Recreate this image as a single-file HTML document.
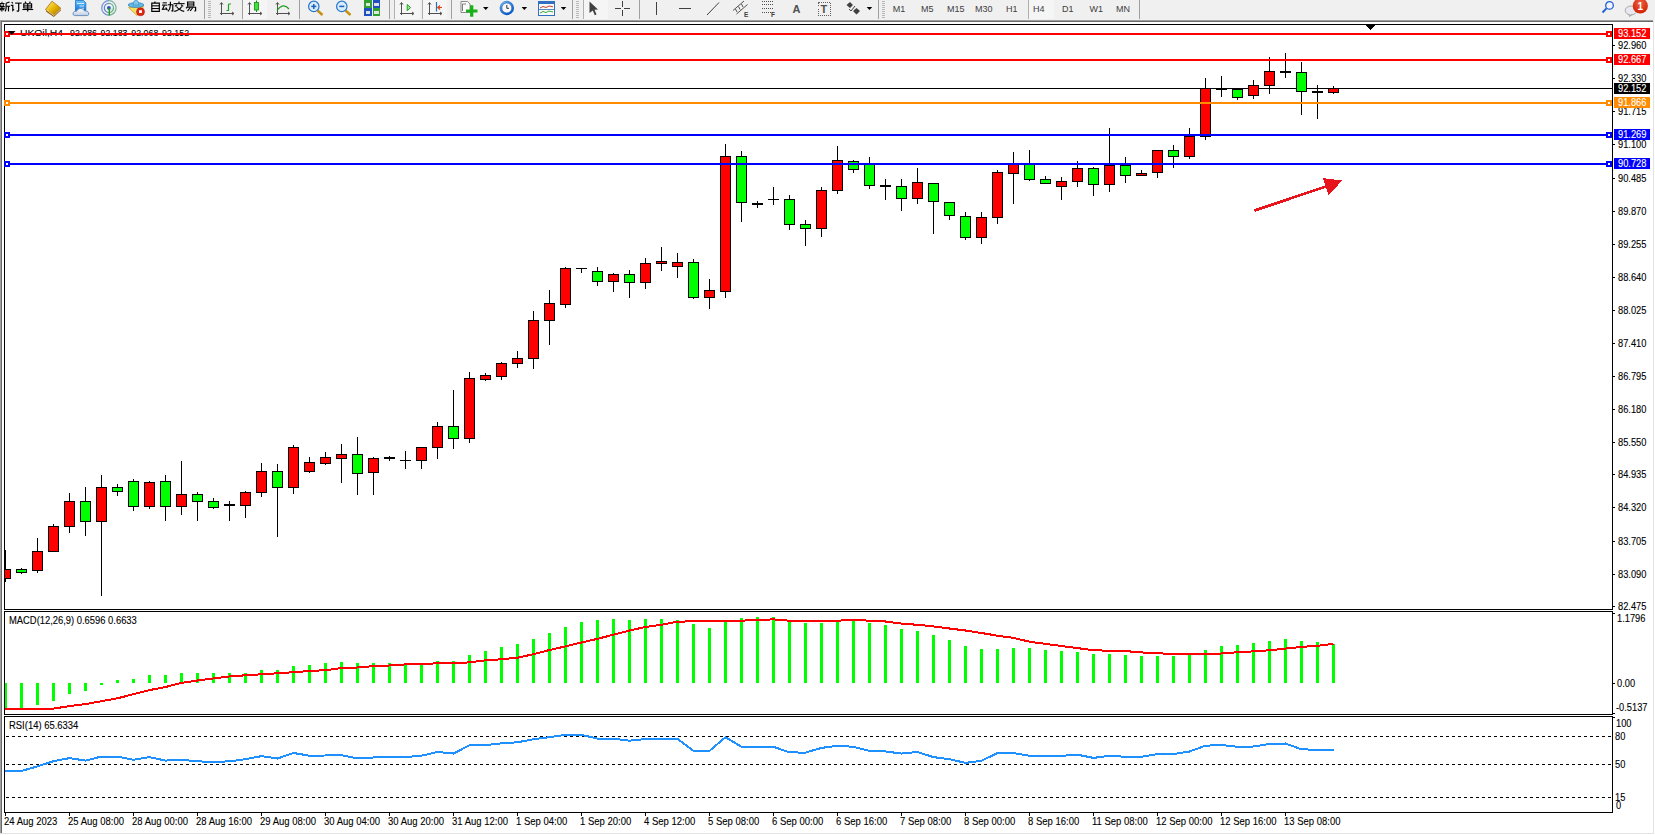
<!DOCTYPE html>
<html><head><meta charset="utf-8"><style>
html,body{margin:0;padding:0;}
body{width:1655px;height:835px;overflow:hidden;background:#fff;position:relative;font-family:'Liberation Sans', sans-serif;}
#tb{position:absolute;left:0;top:0;width:1655px;height:20px;background:#f0f0f0;}
svg{position:absolute;left:0;top:0;}
svg text{font-family:'Liberation Sans', sans-serif;}
</style></head><body>
<div id="tb"></div>
<svg width="1655" height="835" viewBox="0 0 1655 835" shape-rendering="crispEdges">
<defs>
<clipPath id="mainclip"><rect x="5" y="25" width="1607" height="584"/></clipPath>
<clipPath id="macdclip"><rect x="5" y="612" width="1607" height="102"/></clipPath>
<clipPath id="rsiclip"><rect x="5" y="717" width="1607" height="95"/></clipPath>
</defs>
<rect x="0" y="20" width="1653" height="1" fill="#a0a0a0"/>
<rect x="0" y="20" width="1" height="814" fill="#a0a0a0"/>
<rect x="1" y="21" width="1652" height="1" fill="#696969"/>
<rect x="1" y="21" width="1" height="812" fill="#696969"/>
<rect x="1653" y="20" width="1" height="814" fill="#e3e3e3"/>
<rect x="0" y="833" width="1654" height="1" fill="#e3e3e3"/>
<rect x="4" y="24" width="1609" height="1" fill="#000"/>
<rect x="4" y="609" width="1609" height="1" fill="#000"/>
<rect x="4" y="24" width="1" height="586" fill="#000"/>
<rect x="1612" y="24" width="1" height="586" fill="#000"/>
<rect x="4" y="611" width="1609" height="1" fill="#000"/>
<rect x="4" y="714" width="1609" height="1" fill="#000"/>
<rect x="4" y="611" width="1" height="104" fill="#000"/>
<rect x="1612" y="611" width="1" height="104" fill="#000"/>
<rect x="4" y="716" width="1609" height="1" fill="#000"/>
<rect x="4" y="812" width="1609" height="1" fill="#000"/>
<rect x="4" y="716" width="1" height="97" fill="#000"/>
<rect x="1612" y="716" width="1" height="97" fill="#000"/>
<rect x="5" y="88" width="1607" height="1" fill="#000"/>
<g clip-path="url(#mainclip)">
<rect x="5" y="550" width="1" height="32" fill="#000"/>
<rect x="0" y="569" width="11" height="10" fill="#000"/>
<rect x="1" y="570" width="9" height="8" fill="#ff0000"/>
<rect x="21" y="568" width="1" height="6" fill="#000"/>
<rect x="16" y="569" width="11" height="4" fill="#000"/>
<rect x="17" y="570" width="9" height="2" fill="#00ff00"/>
<rect x="37" y="538" width="1" height="35" fill="#000"/>
<rect x="32" y="551" width="11" height="20" fill="#000"/>
<rect x="33" y="552" width="9" height="18" fill="#ff0000"/>
<rect x="53" y="524" width="1" height="27" fill="#000"/>
<rect x="48" y="526" width="11" height="26" fill="#000"/>
<rect x="49" y="527" width="9" height="24" fill="#ff0000"/>
<rect x="69" y="493" width="1" height="40" fill="#000"/>
<rect x="64" y="501" width="11" height="26" fill="#000"/>
<rect x="65" y="502" width="9" height="24" fill="#ff0000"/>
<rect x="85" y="487" width="1" height="49" fill="#000"/>
<rect x="80" y="501" width="11" height="21" fill="#000"/>
<rect x="81" y="502" width="9" height="19" fill="#00ff00"/>
<rect x="101" y="475" width="1" height="121" fill="#000"/>
<rect x="96" y="487" width="11" height="35" fill="#000"/>
<rect x="97" y="488" width="9" height="33" fill="#ff0000"/>
<rect x="117" y="484" width="1" height="12" fill="#000"/>
<rect x="112" y="487" width="11" height="5" fill="#000"/>
<rect x="113" y="488" width="9" height="3" fill="#00ff00"/>
<rect x="133" y="479" width="1" height="32" fill="#000"/>
<rect x="128" y="481" width="11" height="26" fill="#000"/>
<rect x="129" y="482" width="9" height="24" fill="#00ff00"/>
<rect x="149" y="481" width="1" height="28" fill="#000"/>
<rect x="144" y="482" width="11" height="25" fill="#000"/>
<rect x="145" y="483" width="9" height="23" fill="#ff0000"/>
<rect x="165" y="475" width="1" height="46" fill="#000"/>
<rect x="160" y="481" width="11" height="26" fill="#000"/>
<rect x="161" y="482" width="9" height="24" fill="#00ff00"/>
<rect x="181" y="461" width="1" height="54" fill="#000"/>
<rect x="176" y="494" width="11" height="13" fill="#000"/>
<rect x="177" y="495" width="9" height="11" fill="#ff0000"/>
<rect x="197" y="492" width="1" height="29" fill="#000"/>
<rect x="192" y="494" width="11" height="8" fill="#000"/>
<rect x="193" y="495" width="9" height="6" fill="#00ff00"/>
<rect x="213" y="498" width="1" height="11" fill="#000"/>
<rect x="208" y="501" width="11" height="7" fill="#000"/>
<rect x="209" y="502" width="9" height="5" fill="#00ff00"/>
<rect x="229" y="501" width="1" height="20" fill="#000"/>
<rect x="224" y="504" width="11" height="2" fill="#000"/>
<rect x="245" y="491" width="1" height="27" fill="#000"/>
<rect x="240" y="492" width="11" height="14" fill="#000"/>
<rect x="241" y="493" width="9" height="12" fill="#ff0000"/>
<rect x="261" y="463" width="1" height="34" fill="#000"/>
<rect x="256" y="471" width="11" height="22" fill="#000"/>
<rect x="257" y="472" width="9" height="20" fill="#ff0000"/>
<rect x="277" y="464" width="1" height="73" fill="#000"/>
<rect x="272" y="471" width="11" height="17" fill="#000"/>
<rect x="273" y="472" width="9" height="15" fill="#00ff00"/>
<rect x="293" y="445" width="1" height="49" fill="#000"/>
<rect x="288" y="447" width="11" height="41" fill="#000"/>
<rect x="289" y="448" width="9" height="39" fill="#ff0000"/>
<rect x="309" y="457" width="1" height="16" fill="#000"/>
<rect x="304" y="462" width="11" height="10" fill="#000"/>
<rect x="305" y="463" width="9" height="8" fill="#ff0000"/>
<rect x="325" y="452" width="1" height="13" fill="#000"/>
<rect x="320" y="457" width="11" height="7" fill="#000"/>
<rect x="321" y="458" width="9" height="5" fill="#ff0000"/>
<rect x="341" y="444" width="1" height="39" fill="#000"/>
<rect x="336" y="454" width="11" height="5" fill="#000"/>
<rect x="337" y="455" width="9" height="3" fill="#ff0000"/>
<rect x="357" y="437" width="1" height="58" fill="#000"/>
<rect x="352" y="454" width="11" height="20" fill="#000"/>
<rect x="353" y="455" width="9" height="18" fill="#00ff00"/>
<rect x="373" y="457" width="1" height="38" fill="#000"/>
<rect x="368" y="458" width="11" height="15" fill="#000"/>
<rect x="369" y="459" width="9" height="13" fill="#ff0000"/>
<rect x="389" y="456" width="1" height="5" fill="#000"/>
<rect x="384" y="457" width="11" height="2" fill="#000"/>
<rect x="405" y="451" width="1" height="18" fill="#000"/>
<rect x="400" y="460" width="11" height="1" fill="#000"/>
<rect x="421" y="447" width="1" height="22" fill="#000"/>
<rect x="416" y="447" width="11" height="14" fill="#000"/>
<rect x="417" y="448" width="9" height="12" fill="#ff0000"/>
<rect x="437" y="422" width="1" height="37" fill="#000"/>
<rect x="432" y="426" width="11" height="22" fill="#000"/>
<rect x="433" y="427" width="9" height="20" fill="#ff0000"/>
<rect x="453" y="390" width="1" height="59" fill="#000"/>
<rect x="448" y="426" width="11" height="13" fill="#000"/>
<rect x="449" y="427" width="9" height="11" fill="#00ff00"/>
<rect x="469" y="372" width="1" height="71" fill="#000"/>
<rect x="464" y="378" width="11" height="61" fill="#000"/>
<rect x="465" y="379" width="9" height="59" fill="#ff0000"/>
<rect x="485" y="373" width="1" height="8" fill="#000"/>
<rect x="480" y="375" width="11" height="5" fill="#000"/>
<rect x="481" y="376" width="9" height="3" fill="#ff0000"/>
<rect x="501" y="362" width="1" height="18" fill="#000"/>
<rect x="496" y="363" width="11" height="14" fill="#000"/>
<rect x="497" y="364" width="9" height="12" fill="#ff0000"/>
<rect x="517" y="351" width="1" height="17" fill="#000"/>
<rect x="512" y="358" width="11" height="6" fill="#000"/>
<rect x="513" y="359" width="9" height="4" fill="#ff0000"/>
<rect x="533" y="311" width="1" height="58" fill="#000"/>
<rect x="528" y="320" width="11" height="39" fill="#000"/>
<rect x="529" y="321" width="9" height="37" fill="#ff0000"/>
<rect x="549" y="290" width="1" height="55" fill="#000"/>
<rect x="544" y="303" width="11" height="18" fill="#000"/>
<rect x="545" y="304" width="9" height="16" fill="#ff0000"/>
<rect x="565" y="267" width="1" height="41" fill="#000"/>
<rect x="560" y="268" width="11" height="37" fill="#000"/>
<rect x="561" y="269" width="9" height="35" fill="#ff0000"/>
<rect x="581" y="268" width="1" height="5" fill="#000"/>
<rect x="576" y="268" width="11" height="1" fill="#000"/>
<rect x="597" y="267" width="1" height="19" fill="#000"/>
<rect x="592" y="271" width="11" height="11" fill="#000"/>
<rect x="593" y="272" width="9" height="9" fill="#00ff00"/>
<rect x="613" y="273" width="1" height="19" fill="#000"/>
<rect x="608" y="274" width="11" height="8" fill="#000"/>
<rect x="609" y="275" width="9" height="6" fill="#ff0000"/>
<rect x="629" y="270" width="1" height="28" fill="#000"/>
<rect x="624" y="274" width="11" height="9" fill="#000"/>
<rect x="625" y="275" width="9" height="7" fill="#00ff00"/>
<rect x="645" y="258" width="1" height="31" fill="#000"/>
<rect x="640" y="263" width="11" height="20" fill="#000"/>
<rect x="641" y="264" width="9" height="18" fill="#ff0000"/>
<rect x="661" y="247" width="1" height="24" fill="#000"/>
<rect x="656" y="261" width="11" height="3" fill="#000"/>
<rect x="657" y="262" width="9" height="1" fill="#ff0000"/>
<rect x="677" y="253" width="1" height="25" fill="#000"/>
<rect x="672" y="262" width="11" height="5" fill="#000"/>
<rect x="673" y="263" width="9" height="3" fill="#ff0000"/>
<rect x="693" y="259" width="1" height="40" fill="#000"/>
<rect x="688" y="262" width="11" height="36" fill="#000"/>
<rect x="689" y="263" width="9" height="34" fill="#00ff00"/>
<rect x="709" y="279" width="1" height="30" fill="#000"/>
<rect x="704" y="290" width="11" height="8" fill="#000"/>
<rect x="705" y="291" width="9" height="6" fill="#ff0000"/>
<rect x="725" y="144" width="1" height="154" fill="#000"/>
<rect x="720" y="156" width="11" height="136" fill="#000"/>
<rect x="721" y="157" width="9" height="134" fill="#ff0000"/>
<rect x="741" y="151" width="1" height="71" fill="#000"/>
<rect x="736" y="156" width="11" height="47" fill="#000"/>
<rect x="737" y="157" width="9" height="45" fill="#00ff00"/>
<rect x="757" y="201" width="1" height="7" fill="#000"/>
<rect x="752" y="203" width="11" height="2" fill="#000"/>
<rect x="773" y="187" width="1" height="18" fill="#000"/>
<rect x="768" y="199" width="11" height="1" fill="#000"/>
<rect x="789" y="195" width="1" height="35" fill="#000"/>
<rect x="784" y="199" width="11" height="26" fill="#000"/>
<rect x="785" y="200" width="9" height="24" fill="#00ff00"/>
<rect x="805" y="220" width="1" height="26" fill="#000"/>
<rect x="800" y="224" width="11" height="5" fill="#000"/>
<rect x="801" y="225" width="9" height="3" fill="#00ff00"/>
<rect x="821" y="187" width="1" height="50" fill="#000"/>
<rect x="816" y="190" width="11" height="39" fill="#000"/>
<rect x="817" y="191" width="9" height="37" fill="#ff0000"/>
<rect x="837" y="146" width="1" height="48" fill="#000"/>
<rect x="832" y="160" width="11" height="31" fill="#000"/>
<rect x="833" y="161" width="9" height="29" fill="#ff0000"/>
<rect x="853" y="160" width="1" height="13" fill="#000"/>
<rect x="848" y="161" width="11" height="9" fill="#000"/>
<rect x="849" y="162" width="9" height="7" fill="#00ff00"/>
<rect x="869" y="157" width="1" height="32" fill="#000"/>
<rect x="864" y="164" width="11" height="22" fill="#000"/>
<rect x="865" y="165" width="9" height="20" fill="#00ff00"/>
<rect x="885" y="179" width="1" height="21" fill="#000"/>
<rect x="880" y="185" width="11" height="2" fill="#000"/>
<rect x="901" y="179" width="1" height="32" fill="#000"/>
<rect x="896" y="186" width="11" height="13" fill="#000"/>
<rect x="897" y="187" width="9" height="11" fill="#00ff00"/>
<rect x="917" y="168" width="1" height="36" fill="#000"/>
<rect x="912" y="182" width="11" height="17" fill="#000"/>
<rect x="913" y="183" width="9" height="15" fill="#ff0000"/>
<rect x="933" y="183" width="1" height="51" fill="#000"/>
<rect x="928" y="183" width="11" height="19" fill="#000"/>
<rect x="929" y="184" width="9" height="17" fill="#00ff00"/>
<rect x="949" y="202" width="1" height="18" fill="#000"/>
<rect x="944" y="202" width="11" height="14" fill="#000"/>
<rect x="945" y="203" width="9" height="12" fill="#00ff00"/>
<rect x="965" y="212" width="1" height="28" fill="#000"/>
<rect x="960" y="216" width="11" height="22" fill="#000"/>
<rect x="961" y="217" width="9" height="20" fill="#00ff00"/>
<rect x="981" y="212" width="1" height="32" fill="#000"/>
<rect x="976" y="217" width="11" height="21" fill="#000"/>
<rect x="977" y="218" width="9" height="19" fill="#ff0000"/>
<rect x="997" y="170" width="1" height="54" fill="#000"/>
<rect x="992" y="172" width="11" height="46" fill="#000"/>
<rect x="993" y="173" width="9" height="44" fill="#ff0000"/>
<rect x="1013" y="152" width="1" height="52" fill="#000"/>
<rect x="1008" y="164" width="11" height="10" fill="#000"/>
<rect x="1009" y="165" width="9" height="8" fill="#ff0000"/>
<rect x="1029" y="150" width="1" height="31" fill="#000"/>
<rect x="1024" y="164" width="11" height="16" fill="#000"/>
<rect x="1025" y="165" width="9" height="14" fill="#00ff00"/>
<rect x="1045" y="176" width="1" height="8" fill="#000"/>
<rect x="1040" y="179" width="11" height="5" fill="#000"/>
<rect x="1041" y="180" width="9" height="3" fill="#00ff00"/>
<rect x="1061" y="177" width="1" height="23" fill="#000"/>
<rect x="1056" y="181" width="11" height="6" fill="#000"/>
<rect x="1057" y="182" width="9" height="4" fill="#ff0000"/>
<rect x="1077" y="161" width="1" height="26" fill="#000"/>
<rect x="1072" y="168" width="11" height="14" fill="#000"/>
<rect x="1073" y="169" width="9" height="12" fill="#ff0000"/>
<rect x="1093" y="167" width="1" height="29" fill="#000"/>
<rect x="1088" y="168" width="11" height="17" fill="#000"/>
<rect x="1089" y="169" width="9" height="15" fill="#00ff00"/>
<rect x="1109" y="128" width="1" height="64" fill="#000"/>
<rect x="1104" y="165" width="11" height="20" fill="#000"/>
<rect x="1105" y="166" width="9" height="18" fill="#ff0000"/>
<rect x="1125" y="157" width="1" height="26" fill="#000"/>
<rect x="1120" y="165" width="11" height="11" fill="#000"/>
<rect x="1121" y="166" width="9" height="9" fill="#00ff00"/>
<rect x="1141" y="170" width="1" height="6" fill="#000"/>
<rect x="1136" y="173" width="11" height="3" fill="#000"/>
<rect x="1137" y="174" width="9" height="1" fill="#ff0000"/>
<rect x="1157" y="150" width="1" height="28" fill="#000"/>
<rect x="1152" y="150" width="11" height="23" fill="#000"/>
<rect x="1153" y="151" width="9" height="21" fill="#ff0000"/>
<rect x="1173" y="145" width="1" height="23" fill="#000"/>
<rect x="1168" y="150" width="11" height="7" fill="#000"/>
<rect x="1169" y="151" width="9" height="5" fill="#00ff00"/>
<rect x="1189" y="128" width="1" height="31" fill="#000"/>
<rect x="1184" y="136" width="11" height="21" fill="#000"/>
<rect x="1185" y="137" width="9" height="19" fill="#ff0000"/>
<rect x="1205" y="78" width="1" height="62" fill="#000"/>
<rect x="1200" y="88" width="11" height="49" fill="#000"/>
<rect x="1201" y="89" width="9" height="47" fill="#ff0000"/>
<rect x="1221" y="76" width="1" height="21" fill="#000"/>
<rect x="1216" y="89" width="11" height="1" fill="#000"/>
<rect x="1237" y="89" width="1" height="11" fill="#000"/>
<rect x="1232" y="89" width="11" height="9" fill="#000"/>
<rect x="1233" y="90" width="9" height="7" fill="#00ff00"/>
<rect x="1253" y="80" width="1" height="19" fill="#000"/>
<rect x="1248" y="85" width="11" height="11" fill="#000"/>
<rect x="1249" y="86" width="9" height="9" fill="#ff0000"/>
<rect x="1269" y="57" width="1" height="37" fill="#000"/>
<rect x="1264" y="71" width="11" height="15" fill="#000"/>
<rect x="1265" y="72" width="9" height="13" fill="#ff0000"/>
<rect x="1285" y="53" width="1" height="25" fill="#000"/>
<rect x="1280" y="71" width="11" height="2" fill="#000"/>
<rect x="1301" y="62" width="1" height="53" fill="#000"/>
<rect x="1296" y="72" width="11" height="20" fill="#000"/>
<rect x="1297" y="73" width="9" height="18" fill="#00ff00"/>
<rect x="1317" y="85" width="1" height="34" fill="#000"/>
<rect x="1312" y="91" width="11" height="2" fill="#000"/>
<rect x="1333" y="86" width="1" height="8" fill="#000"/>
<rect x="1328" y="88" width="11" height="5" fill="#000"/>
<rect x="1329" y="89" width="9" height="3" fill="#ff0000"/>
</g>
<text x="20" y="36" font-size="9.5" fill="#000" stroke="#000" stroke-width="0.1" text-anchor="start" textLength="43" lengthAdjust="spacingAndGlyphs">UKOil,H4</text>
<text x="70" y="36" font-size="9.5" fill="#000" stroke="#000" stroke-width="0.1" text-anchor="start" textLength="27" lengthAdjust="spacingAndGlyphs">92.086</text>
<text x="100.5" y="36" font-size="9.5" fill="#000" stroke="#000" stroke-width="0.1" text-anchor="start" textLength="27" lengthAdjust="spacingAndGlyphs">92.183</text>
<text x="131.3" y="36" font-size="9.5" fill="#000" stroke="#000" stroke-width="0.1" text-anchor="start" textLength="27" lengthAdjust="spacingAndGlyphs">92.068</text>
<text x="162.1" y="36" font-size="9.5" fill="#000" stroke="#000" stroke-width="0.1" text-anchor="start" textLength="27" lengthAdjust="spacingAndGlyphs">92.152</text>
<rect x="5" y="33" width="1607" height="2" fill="#ff0000"/>
<rect x="4" y="31" width="6" height="6" fill="#ff0000"/>
<rect x="6" y="33" width="2" height="2" fill="#fff"/>
<rect x="1606" y="31" width="6" height="6" fill="#ff0000"/>
<rect x="1608" y="33" width="2" height="2" fill="#fff"/>
<rect x="5" y="59" width="1607" height="2" fill="#ff0000"/>
<rect x="4" y="57" width="6" height="6" fill="#ff0000"/>
<rect x="6" y="59" width="2" height="2" fill="#fff"/>
<rect x="1606" y="57" width="6" height="6" fill="#ff0000"/>
<rect x="1608" y="59" width="2" height="2" fill="#fff"/>
<rect x="5" y="102" width="1607" height="2" fill="#ff8c00"/>
<rect x="4" y="100" width="6" height="6" fill="#ff8c00"/>
<rect x="6" y="102" width="2" height="2" fill="#fff"/>
<rect x="1606" y="100" width="6" height="6" fill="#ff8c00"/>
<rect x="1608" y="102" width="2" height="2" fill="#fff"/>
<rect x="5" y="134" width="1607" height="2" fill="#0000ff"/>
<rect x="4" y="132" width="6" height="6" fill="#0000ff"/>
<rect x="6" y="134" width="2" height="2" fill="#fff"/>
<rect x="1606" y="132" width="6" height="6" fill="#0000ff"/>
<rect x="1608" y="134" width="2" height="2" fill="#fff"/>
<rect x="5" y="163" width="1607" height="2" fill="#0000ff"/>
<rect x="4" y="161" width="6" height="6" fill="#0000ff"/>
<rect x="6" y="163" width="2" height="2" fill="#fff"/>
<rect x="1606" y="161" width="6" height="6" fill="#0000ff"/>
<rect x="1608" y="163" width="2" height="2" fill="#fff"/>
<polygon points="8,31 15.5,31 11.75,35" fill="#000" shape-rendering="auto"/>
<polygon points="1364,24 1376,24 1370,30" fill="#000"/>
<rect x="1613" y="45" width="2" height="1" fill="#000"/>
<text transform="translate(1618,49) scale(0.93,1)" x="0" y="0" font-size="10" fill="#000" stroke="#000" stroke-width="0.1" text-anchor="start">92.960</text>
<rect x="1613" y="78" width="2" height="1" fill="#000"/>
<text transform="translate(1618,82) scale(0.93,1)" x="0" y="0" font-size="10" fill="#000" stroke="#000" stroke-width="0.1" text-anchor="start">92.330</text>
<rect x="1613" y="111" width="2" height="1" fill="#000"/>
<text transform="translate(1618,115) scale(0.93,1)" x="0" y="0" font-size="10" fill="#000" stroke="#000" stroke-width="0.1" text-anchor="start">91.715</text>
<rect x="1613" y="144" width="2" height="1" fill="#000"/>
<text transform="translate(1618,148) scale(0.93,1)" x="0" y="0" font-size="10" fill="#000" stroke="#000" stroke-width="0.1" text-anchor="start">91.100</text>
<rect x="1613" y="178" width="2" height="1" fill="#000"/>
<text transform="translate(1618,182) scale(0.93,1)" x="0" y="0" font-size="10" fill="#000" stroke="#000" stroke-width="0.1" text-anchor="start">90.485</text>
<rect x="1613" y="211" width="2" height="1" fill="#000"/>
<text transform="translate(1618,215) scale(0.93,1)" x="0" y="0" font-size="10" fill="#000" stroke="#000" stroke-width="0.1" text-anchor="start">89.870</text>
<rect x="1613" y="244" width="2" height="1" fill="#000"/>
<text transform="translate(1618,248) scale(0.93,1)" x="0" y="0" font-size="10" fill="#000" stroke="#000" stroke-width="0.1" text-anchor="start">89.255</text>
<rect x="1613" y="277" width="2" height="1" fill="#000"/>
<text transform="translate(1618,281) scale(0.93,1)" x="0" y="0" font-size="10" fill="#000" stroke="#000" stroke-width="0.1" text-anchor="start">88.640</text>
<rect x="1613" y="310" width="2" height="1" fill="#000"/>
<text transform="translate(1618,314) scale(0.93,1)" x="0" y="0" font-size="10" fill="#000" stroke="#000" stroke-width="0.1" text-anchor="start">88.025</text>
<rect x="1613" y="343" width="2" height="1" fill="#000"/>
<text transform="translate(1618,347) scale(0.93,1)" x="0" y="0" font-size="10" fill="#000" stroke="#000" stroke-width="0.1" text-anchor="start">87.410</text>
<rect x="1613" y="376" width="2" height="1" fill="#000"/>
<text transform="translate(1618,380) scale(0.93,1)" x="0" y="0" font-size="10" fill="#000" stroke="#000" stroke-width="0.1" text-anchor="start">86.795</text>
<rect x="1613" y="409" width="2" height="1" fill="#000"/>
<text transform="translate(1618,413) scale(0.93,1)" x="0" y="0" font-size="10" fill="#000" stroke="#000" stroke-width="0.1" text-anchor="start">86.180</text>
<rect x="1613" y="442" width="2" height="1" fill="#000"/>
<text transform="translate(1618,446) scale(0.93,1)" x="0" y="0" font-size="10" fill="#000" stroke="#000" stroke-width="0.1" text-anchor="start">85.550</text>
<rect x="1613" y="474" width="2" height="1" fill="#000"/>
<text transform="translate(1618,478) scale(0.93,1)" x="0" y="0" font-size="10" fill="#000" stroke="#000" stroke-width="0.1" text-anchor="start">84.935</text>
<rect x="1613" y="507" width="2" height="1" fill="#000"/>
<text transform="translate(1618,511) scale(0.93,1)" x="0" y="0" font-size="10" fill="#000" stroke="#000" stroke-width="0.1" text-anchor="start">84.320</text>
<rect x="1613" y="541" width="2" height="1" fill="#000"/>
<text transform="translate(1618,545) scale(0.93,1)" x="0" y="0" font-size="10" fill="#000" stroke="#000" stroke-width="0.1" text-anchor="start">83.705</text>
<rect x="1613" y="574" width="2" height="1" fill="#000"/>
<text transform="translate(1618,578) scale(0.93,1)" x="0" y="0" font-size="10" fill="#000" stroke="#000" stroke-width="0.1" text-anchor="start">83.090</text>
<rect x="1613" y="606" width="2" height="1" fill="#000"/>
<text transform="translate(1618,610) scale(0.93,1)" x="0" y="0" font-size="10" fill="#000" stroke="#000" stroke-width="0.1" text-anchor="start">82.475</text>
<rect x="1614" y="28" width="36" height="11" fill="#ff0000"/>
<text transform="translate(1618,37) scale(0.93,1)" x="0" y="0" font-size="10" fill="#fff" stroke="#fff" stroke-width="0.1" text-anchor="start">93.152</text>
<rect x="1614" y="54" width="36" height="11" fill="#ff0000"/>
<text transform="translate(1618,63) scale(0.93,1)" x="0" y="0" font-size="10" fill="#fff" stroke="#fff" stroke-width="0.1" text-anchor="start">92.667</text>
<rect x="1614" y="83" width="36" height="11" fill="#000000"/>
<text transform="translate(1618,92) scale(0.93,1)" x="0" y="0" font-size="10" fill="#fff" stroke="#fff" stroke-width="0.1" text-anchor="start">92.152</text>
<rect x="1614" y="97" width="36" height="11" fill="#ff8c00"/>
<text transform="translate(1618,106) scale(0.93,1)" x="0" y="0" font-size="10" fill="#fff" stroke="#fff" stroke-width="0.1" text-anchor="start">91.866</text>
<rect x="1614" y="129" width="36" height="11" fill="#0000ff"/>
<text transform="translate(1618,138) scale(0.93,1)" x="0" y="0" font-size="10" fill="#fff" stroke="#fff" stroke-width="0.1" text-anchor="start">91.269</text>
<rect x="1614" y="158" width="36" height="11" fill="#0000ff"/>
<text transform="translate(1618,167) scale(0.93,1)" x="0" y="0" font-size="10" fill="#fff" stroke="#fff" stroke-width="0.1" text-anchor="start">90.728</text>
<g clip-path="url(#macdclip)">
<rect x="4" y="683" width="3" height="26" fill="#00ff00"/>
<rect x="20" y="683" width="3" height="25" fill="#00ff00"/>
<rect x="36" y="683" width="3" height="22" fill="#00ff00"/>
<rect x="52" y="683" width="3" height="18" fill="#00ff00"/>
<rect x="68" y="683" width="3" height="11" fill="#00ff00"/>
<rect x="84" y="683" width="3" height="8" fill="#00ff00"/>
<rect x="100" y="683" width="3" height="2" fill="#00ff00"/>
<rect x="116" y="680" width="3" height="3" fill="#00ff00"/>
<rect x="132" y="679" width="3" height="4" fill="#00ff00"/>
<rect x="148" y="675" width="3" height="8" fill="#00ff00"/>
<rect x="164" y="675" width="3" height="8" fill="#00ff00"/>
<rect x="180" y="673" width="3" height="10" fill="#00ff00"/>
<rect x="196" y="673" width="3" height="10" fill="#00ff00"/>
<rect x="212" y="673" width="3" height="10" fill="#00ff00"/>
<rect x="228" y="673" width="3" height="10" fill="#00ff00"/>
<rect x="244" y="673" width="3" height="10" fill="#00ff00"/>
<rect x="260" y="670" width="3" height="13" fill="#00ff00"/>
<rect x="276" y="670" width="3" height="13" fill="#00ff00"/>
<rect x="292" y="666" width="3" height="17" fill="#00ff00"/>
<rect x="308" y="665" width="3" height="18" fill="#00ff00"/>
<rect x="324" y="663" width="3" height="20" fill="#00ff00"/>
<rect x="340" y="662" width="3" height="21" fill="#00ff00"/>
<rect x="356" y="663" width="3" height="20" fill="#00ff00"/>
<rect x="372" y="663" width="3" height="20" fill="#00ff00"/>
<rect x="388" y="663" width="3" height="20" fill="#00ff00"/>
<rect x="404" y="665" width="3" height="18" fill="#00ff00"/>
<rect x="420" y="665" width="3" height="18" fill="#00ff00"/>
<rect x="436" y="661" width="3" height="22" fill="#00ff00"/>
<rect x="452" y="661" width="3" height="22" fill="#00ff00"/>
<rect x="468" y="655" width="3" height="28" fill="#00ff00"/>
<rect x="484" y="651" width="3" height="32" fill="#00ff00"/>
<rect x="500" y="647" width="3" height="36" fill="#00ff00"/>
<rect x="516" y="644" width="3" height="39" fill="#00ff00"/>
<rect x="532" y="639" width="3" height="44" fill="#00ff00"/>
<rect x="548" y="633" width="3" height="50" fill="#00ff00"/>
<rect x="564" y="627" width="3" height="56" fill="#00ff00"/>
<rect x="580" y="622" width="3" height="61" fill="#00ff00"/>
<rect x="596" y="620" width="3" height="63" fill="#00ff00"/>
<rect x="612" y="619" width="3" height="64" fill="#00ff00"/>
<rect x="628" y="620" width="3" height="63" fill="#00ff00"/>
<rect x="644" y="619" width="3" height="64" fill="#00ff00"/>
<rect x="660" y="619" width="3" height="64" fill="#00ff00"/>
<rect x="676" y="620" width="3" height="63" fill="#00ff00"/>
<rect x="692" y="624" width="3" height="59" fill="#00ff00"/>
<rect x="708" y="628" width="3" height="55" fill="#00ff00"/>
<rect x="724" y="622" width="3" height="61" fill="#00ff00"/>
<rect x="740" y="618" width="3" height="65" fill="#00ff00"/>
<rect x="756" y="617" width="3" height="66" fill="#00ff00"/>
<rect x="772" y="617" width="3" height="66" fill="#00ff00"/>
<rect x="788" y="621" width="3" height="62" fill="#00ff00"/>
<rect x="804" y="623" width="3" height="60" fill="#00ff00"/>
<rect x="820" y="623" width="3" height="60" fill="#00ff00"/>
<rect x="836" y="622" width="3" height="61" fill="#00ff00"/>
<rect x="852" y="621" width="3" height="62" fill="#00ff00"/>
<rect x="868" y="623" width="3" height="60" fill="#00ff00"/>
<rect x="884" y="625" width="3" height="58" fill="#00ff00"/>
<rect x="900" y="629" width="3" height="54" fill="#00ff00"/>
<rect x="916" y="631" width="3" height="52" fill="#00ff00"/>
<rect x="932" y="635" width="3" height="48" fill="#00ff00"/>
<rect x="948" y="640" width="3" height="43" fill="#00ff00"/>
<rect x="964" y="646" width="3" height="37" fill="#00ff00"/>
<rect x="980" y="649" width="3" height="34" fill="#00ff00"/>
<rect x="996" y="649" width="3" height="34" fill="#00ff00"/>
<rect x="1012" y="648" width="3" height="35" fill="#00ff00"/>
<rect x="1028" y="648" width="3" height="35" fill="#00ff00"/>
<rect x="1044" y="650" width="3" height="33" fill="#00ff00"/>
<rect x="1060" y="651" width="3" height="32" fill="#00ff00"/>
<rect x="1076" y="652" width="3" height="31" fill="#00ff00"/>
<rect x="1092" y="654" width="3" height="29" fill="#00ff00"/>
<rect x="1108" y="654" width="3" height="29" fill="#00ff00"/>
<rect x="1124" y="655" width="3" height="28" fill="#00ff00"/>
<rect x="1140" y="656" width="3" height="27" fill="#00ff00"/>
<rect x="1156" y="656" width="3" height="27" fill="#00ff00"/>
<rect x="1172" y="656" width="3" height="27" fill="#00ff00"/>
<rect x="1188" y="654" width="3" height="29" fill="#00ff00"/>
<rect x="1204" y="650" width="3" height="33" fill="#00ff00"/>
<rect x="1220" y="646" width="3" height="37" fill="#00ff00"/>
<rect x="1236" y="645" width="3" height="38" fill="#00ff00"/>
<rect x="1252" y="643" width="3" height="40" fill="#00ff00"/>
<rect x="1268" y="641" width="3" height="42" fill="#00ff00"/>
<rect x="1284" y="639" width="3" height="44" fill="#00ff00"/>
<rect x="1300" y="641" width="3" height="42" fill="#00ff00"/>
<rect x="1316" y="642" width="3" height="41" fill="#00ff00"/>
<rect x="1332" y="644" width="3" height="39" fill="#00ff00"/>
<polyline points="3,709.2 5.5,709.2 21.5,709.2 37.5,709.2 53.5,708.6 69.5,706.1 85.5,704.1 101.5,701.2 117.5,698.3 133.5,694.2 149.5,690.1 165.5,687.0 181.5,682.9 197.5,680.5 213.5,678.4 229.5,676.4 245.5,675.3 261.5,674.3 277.5,673.3 293.5,672.2 309.5,671.0 325.5,670.2 341.5,668.1 357.5,667.5 373.5,666.1 389.5,665.5 405.5,664.4 421.5,663.8 437.5,663.4 453.5,663.0 469.5,662.4 485.5,660.3 501.5,659.3 517.5,657.7 533.5,654.2 549.5,650.0 565.5,646.4 581.5,642.5 597.5,638.8 613.5,634.7 629.5,630.5 645.5,627.0 661.5,624.8 677.5,621.7 693.5,621.3 709.5,620.7 725.5,620.7 741.5,620.7 757.5,619.9 773.5,619.4 789.5,620.7 805.5,620.7 821.5,620.7 837.5,620.7 853.5,619.9 869.5,620.7 885.5,621.5 901.5,623.6 917.5,624.8 933.5,626.4 949.5,628.5 965.5,630.5 981.5,633.0 997.5,635.7 1013.5,637.9 1029.5,641.7 1045.5,643.9 1061.5,646.0 1077.5,648.1 1093.5,650.3 1109.5,650.7 1125.5,651.1 1141.5,652.4 1157.5,653.3 1173.5,653.9 1189.5,653.9 1205.5,653.9 1221.5,653.5 1237.5,652.2 1253.5,651.4 1269.5,650.3 1285.5,648.6 1301.5,646.9 1317.5,645.8 1333.5,643.9" fill="none" stroke="#ff0000" stroke-width="2"/>
</g>
<text transform="translate(9,624) scale(0.94,1)" x="0" y="0" font-size="10" fill="#000" stroke="#000" stroke-width="0.1" text-anchor="start">MACD(12,26,9) 0.6596 0.6633</text>
<rect x="1613" y="613" width="2" height="1" fill="#000"/>
<text transform="translate(1617,622) scale(0.93,1)" x="0" y="0" font-size="10" fill="#000" stroke="#000" stroke-width="0.1" text-anchor="start">1.1796</text>
<rect x="1613" y="683" width="2" height="1" fill="#000"/>
<text transform="translate(1617,687) scale(0.93,1)" x="0" y="0" font-size="10" fill="#000" stroke="#000" stroke-width="0.1" text-anchor="start">0.00</text>
<rect x="1613" y="713" width="2" height="1" fill="#000"/>
<text transform="translate(1616,711) scale(0.93,1)" x="0" y="0" font-size="10" fill="#000" stroke="#000" stroke-width="0.1" text-anchor="start">-0.5137</text>
<line x1="6" y1="736.5" x2="1612" y2="736.5" stroke="#000" stroke-width="1" stroke-dasharray="3,3"/>
<line x1="6" y1="764.5" x2="1612" y2="764.5" stroke="#000" stroke-width="1" stroke-dasharray="3,3"/>
<line x1="6" y1="797.5" x2="1612" y2="797.5" stroke="#000" stroke-width="1" stroke-dasharray="3,3"/>
<g clip-path="url(#rsiclip)">
<polyline points="3,770.9 5.5,770.9 21.5,770.9 37.5,766.4 53.5,761.2 69.5,758.1 85.5,760.6 101.5,756.5 117.5,756.5 133.5,759.8 149.5,757.1 165.5,760.6 181.5,759.8 197.5,761.4 213.5,761.8 229.5,761.4 245.5,759.2 261.5,756.1 277.5,758.5 293.5,753.0 309.5,755.7 325.5,755.5 341.5,755.1 357.5,758.5 373.5,757.5 389.5,757.1 405.5,757.1 421.5,755.7 437.5,752.0 453.5,753.6 469.5,745.2 485.5,745.2 501.5,743.3 517.5,742.3 533.5,739.2 549.5,737.2 565.5,734.9 581.5,734.9 597.5,738.6 613.5,738.6 629.5,740.7 645.5,739.0 661.5,739.0 677.5,739.0 693.5,750.9 709.5,750.9 725.5,737.2 741.5,746.8 757.5,746.8 773.5,746.8 789.5,752.4 805.5,752.6 821.5,747.9 837.5,745.8 853.5,746.8 869.5,750.9 885.5,751.4 901.5,753.6 917.5,752.0 933.5,757.1 949.5,759.2 965.5,762.9 981.5,760.8 997.5,753.0 1013.5,753.0 1029.5,755.8 1045.5,755.8 1061.5,755.8 1077.5,754.7 1093.5,757.9 1109.5,755.8 1125.5,756.8 1141.5,756.8 1157.5,754.1 1173.5,754.1 1189.5,751.5 1205.5,745.7 1221.5,745.0 1237.5,746.8 1253.5,746.5 1269.5,744.0 1285.5,743.5 1301.5,749.3 1317.5,749.8 1333.5,749.8" fill="none" stroke="#1e90ff" stroke-width="2"/>
</g>
<text transform="translate(9,729) scale(0.945,1)" x="0" y="0" font-size="10" fill="#000" stroke="#000" stroke-width="0.1" text-anchor="start">RSI(14) 65.6334</text>
<rect x="1613" y="717" width="2" height="1" fill="#000"/>
<text transform="translate(1616,727) scale(0.93,1)" x="0" y="0" font-size="10" fill="#000" stroke="#000" stroke-width="0.1" text-anchor="start">100</text>
<text transform="translate(1615,740) scale(0.93,1)" x="0" y="0" font-size="10" fill="#000" stroke="#000" stroke-width="0.1" text-anchor="start">80</text>
<text transform="translate(1615,768) scale(0.93,1)" x="0" y="0" font-size="10" fill="#000" stroke="#000" stroke-width="0.1" text-anchor="start">50</text>
<text transform="translate(1615,801) scale(0.93,1)" x="0" y="0" font-size="10" fill="#000" stroke="#000" stroke-width="0.1" text-anchor="start">15</text>
<text transform="translate(1616,809) scale(0.93,1)" x="0" y="0" font-size="10" fill="#000" stroke="#000" stroke-width="0.1" text-anchor="start">0</text>
<rect x="5" y="813" width="1" height="3" fill="#000"/>
<text transform="translate(4,825) scale(0.95,1)" x="0" y="0" font-size="10" fill="#000" stroke="#000" stroke-width="0.1" text-anchor="start">24 Aug 2023</text>
<rect x="69" y="813" width="1" height="3" fill="#000"/>
<text transform="translate(68,825) scale(0.95,1)" x="0" y="0" font-size="10" fill="#000" stroke="#000" stroke-width="0.1" text-anchor="start">25 Aug 08:00</text>
<rect x="133" y="813" width="1" height="3" fill="#000"/>
<text transform="translate(132,825) scale(0.95,1)" x="0" y="0" font-size="10" fill="#000" stroke="#000" stroke-width="0.1" text-anchor="start">28 Aug 00:00</text>
<rect x="197" y="813" width="1" height="3" fill="#000"/>
<text transform="translate(196,825) scale(0.95,1)" x="0" y="0" font-size="10" fill="#000" stroke="#000" stroke-width="0.1" text-anchor="start">28 Aug 16:00</text>
<rect x="261" y="813" width="1" height="3" fill="#000"/>
<text transform="translate(260,825) scale(0.95,1)" x="0" y="0" font-size="10" fill="#000" stroke="#000" stroke-width="0.1" text-anchor="start">29 Aug 08:00</text>
<rect x="325" y="813" width="1" height="3" fill="#000"/>
<text transform="translate(324,825) scale(0.95,1)" x="0" y="0" font-size="10" fill="#000" stroke="#000" stroke-width="0.1" text-anchor="start">30 Aug 04:00</text>
<rect x="389" y="813" width="1" height="3" fill="#000"/>
<text transform="translate(388,825) scale(0.95,1)" x="0" y="0" font-size="10" fill="#000" stroke="#000" stroke-width="0.1" text-anchor="start">30 Aug 20:00</text>
<rect x="453" y="813" width="1" height="3" fill="#000"/>
<text transform="translate(452,825) scale(0.95,1)" x="0" y="0" font-size="10" fill="#000" stroke="#000" stroke-width="0.1" text-anchor="start">31 Aug 12:00</text>
<rect x="517" y="813" width="1" height="3" fill="#000"/>
<text transform="translate(516,825) scale(0.95,1)" x="0" y="0" font-size="10" fill="#000" stroke="#000" stroke-width="0.1" text-anchor="start">1 Sep 04:00</text>
<rect x="581" y="813" width="1" height="3" fill="#000"/>
<text transform="translate(580,825) scale(0.95,1)" x="0" y="0" font-size="10" fill="#000" stroke="#000" stroke-width="0.1" text-anchor="start">1 Sep 20:00</text>
<rect x="645" y="813" width="1" height="3" fill="#000"/>
<text transform="translate(644,825) scale(0.95,1)" x="0" y="0" font-size="10" fill="#000" stroke="#000" stroke-width="0.1" text-anchor="start">4 Sep 12:00</text>
<rect x="709" y="813" width="1" height="3" fill="#000"/>
<text transform="translate(708,825) scale(0.95,1)" x="0" y="0" font-size="10" fill="#000" stroke="#000" stroke-width="0.1" text-anchor="start">5 Sep 08:00</text>
<rect x="773" y="813" width="1" height="3" fill="#000"/>
<text transform="translate(772,825) scale(0.95,1)" x="0" y="0" font-size="10" fill="#000" stroke="#000" stroke-width="0.1" text-anchor="start">6 Sep 00:00</text>
<rect x="837" y="813" width="1" height="3" fill="#000"/>
<text transform="translate(836,825) scale(0.95,1)" x="0" y="0" font-size="10" fill="#000" stroke="#000" stroke-width="0.1" text-anchor="start">6 Sep 16:00</text>
<rect x="901" y="813" width="1" height="3" fill="#000"/>
<text transform="translate(900,825) scale(0.95,1)" x="0" y="0" font-size="10" fill="#000" stroke="#000" stroke-width="0.1" text-anchor="start">7 Sep 08:00</text>
<rect x="965" y="813" width="1" height="3" fill="#000"/>
<text transform="translate(964,825) scale(0.95,1)" x="0" y="0" font-size="10" fill="#000" stroke="#000" stroke-width="0.1" text-anchor="start">8 Sep 00:00</text>
<rect x="1029" y="813" width="1" height="3" fill="#000"/>
<text transform="translate(1028,825) scale(0.95,1)" x="0" y="0" font-size="10" fill="#000" stroke="#000" stroke-width="0.1" text-anchor="start">8 Sep 16:00</text>
<rect x="1093" y="813" width="1" height="3" fill="#000"/>
<text transform="translate(1092,825) scale(0.95,1)" x="0" y="0" font-size="10" fill="#000" stroke="#000" stroke-width="0.1" text-anchor="start">11 Sep 08:00</text>
<rect x="1157" y="813" width="1" height="3" fill="#000"/>
<text transform="translate(1156,825) scale(0.95,1)" x="0" y="0" font-size="10" fill="#000" stroke="#000" stroke-width="0.1" text-anchor="start">12 Sep 00:00</text>
<rect x="1221" y="813" width="1" height="3" fill="#000"/>
<text transform="translate(1220,825) scale(0.95,1)" x="0" y="0" font-size="10" fill="#000" stroke="#000" stroke-width="0.1" text-anchor="start">12 Sep 16:00</text>
<rect x="1285" y="813" width="1" height="3" fill="#000"/>
<text transform="translate(1284,825) scale(0.95,1)" x="0" y="0" font-size="10" fill="#000" stroke="#000" stroke-width="0.1" text-anchor="start">13 Sep 08:00</text>
<line x1="1254.5" y1="210.5" x2="1326" y2="186.5" stroke="#e8141c" stroke-width="2.7"/>
<polygon points="1322.7,178 1342.3,180.6 1328.4,194.9" fill="#e8141c"/>
<g transform="translate(-1.5,1.5) scale(1,0.9)" fill="none" stroke="#000" stroke-width="1.2" stroke-linecap="butt" shape-rendering="auto">
<path d="M3.5 0.3V1.5"/>
<path d="M0.8 2.3H6"/>
<path d="M2 3.3L2.5 5"/>
<path d="M5 3.3L4.5 5"/>
<path d="M0.5 5.6H6.3"/>
<path d="M0.5 7.5H6.3"/>
<path d="M3.4 5.6V11"/>
<path d="M3.2 7.8L0.8 10"/>
<path d="M3.6 7.8L5.6 9.6"/>
<path d="M11 0.6L7.6 2"/>
<path d="M7.6 2V7.5Q7.5 9.5 6.6 11"/>
<path d="M7.6 5.3H11.6"/>
<path d="M10 5.3V11"/>
</g>
<g transform="translate(10.5,1.5) scale(1,0.9)" fill="none" stroke="#000" stroke-width="1.2" stroke-linecap="butt" shape-rendering="auto">
<path d="M1.2 0.8L2.4 2"/>
<path d="M0.3 4.3H2.3V10L3.6 8.8"/>
<path d="M4.6 1.8H11.2"/>
<path d="M8.2 1.8V10.3Q8.2 11 7.2 10.8L6.2 10.2"/>
</g>
<g transform="translate(22,1.5) scale(1,0.9)" fill="none" stroke="#000" stroke-width="1.2" stroke-linecap="butt" shape-rendering="auto">
<path d="M3 0.2L4 1.6"/>
<path d="M8.4 0.2L7.4 1.6"/>
<path d="M1.8 2.5H9.6V7.3H1.8Z"/>
<path d="M1.8 4.9H9.6"/>
<path d="M5.7 2.5V11"/>
<path d="M0.3 8.9H11.2"/>
</g>
<g transform="translate(150,1.5) scale(1,0.9)" fill="none" stroke="#000" stroke-width="1.2" stroke-linecap="butt" shape-rendering="auto">
<path d="M5.4 0.2L4.4 1.6"/>
<path d="M1.8 1.8H9.3V11H1.8Z"/>
<path d="M1.8 4.8H9.3"/>
<path d="M1.8 7.8H9.3"/>
</g>
<g transform="translate(161.8,1.5) scale(1,0.9)" fill="none" stroke="#000" stroke-width="1.2" stroke-linecap="butt" shape-rendering="auto">
<path d="M0.8 1.5H5"/>
<path d="M0.2 4H5.6"/>
<path d="M2.6 4.2L0.7 8.8L5.2 8.2"/>
<path d="M4 6.6L5.6 9.6"/>
<path d="M6.2 3.6H11V10.6L9.4 10.2"/>
<path d="M8.6 0.4V4.2Q8.4 8.5 6.2 11"/>
</g>
<g transform="translate(173.4,1.5) scale(1,0.9)" fill="none" stroke="#000" stroke-width="1.2" stroke-linecap="butt" shape-rendering="auto">
<path d="M5.6 0.1V1.6"/>
<path d="M0.2 2.4H11.2"/>
<path d="M3.6 3.4L1.6 5.4"/>
<path d="M7.6 3.4L9.8 5.4"/>
<path d="M3 5.6Q6 10 10.8 11"/>
<path d="M8.4 5.6Q5.8 10 0.8 11"/>
</g>
<g transform="translate(185,1.5) scale(1,0.9)" fill="none" stroke="#000" stroke-width="1.2" stroke-linecap="butt" shape-rendering="auto">
<path d="M2.6 0.6H8.8V5H2.6Z"/>
<path d="M2.6 2.8H8.8"/>
<path d="M2.6 5.8L1 7.6"/>
<path d="M2.2 6.4H10.6V10.4L9.2 10.6"/>
<path d="M5.2 6.6L2.6 10.6"/>
<path d="M7.8 6.6L5.2 10.6"/>
</g>
<defs><linearGradient id="gold" x1="0" y1="0" x2="1" y2="1"><stop offset="0" stop-color="#fff0a0"/><stop offset="0.5" stop-color="#e8b800"/><stop offset="1" stop-color="#a06800"/></linearGradient><radialGradient id="sig" cx="0.5" cy="0.5" r="0.5"><stop offset="0" stop-color="#fff"/><stop offset="1" stop-color="#dfe8f0"/></radialGradient><linearGradient id="blu" x1="0" y1="0" x2="0" y2="1"><stop offset="0" stop-color="#6ec8ff"/><stop offset="1" stop-color="#0a70d8"/></linearGradient><linearGradient id="cloud" x1="0" y1="0" x2="0" y2="1"><stop offset="0" stop-color="#ffffff"/><stop offset="1" stop-color="#c0cce0"/></linearGradient><radialGradient id="clock" cx="0.4" cy="0.35" r="0.6"><stop offset="0" stop-color="#9ad4ff"/><stop offset="1" stop-color="#0a5cc8"/></radialGradient><radialGradient id="badge" cx="0.5" cy="0.3" r="0.7"><stop offset="0" stop-color="#f06040"/><stop offset="1" stop-color="#d02000"/></radialGradient></defs>
<g shape-rendering="auto">
<path d="M45.5 9.5 L52 1.2 L60.8 8.2 L54 15.2 Z" fill="url(#gold)" stroke="#b07a10" stroke-width="0.9"/>
<path d="M46.2 11 L53.8 16.2 L60.9 9.6" fill="none" stroke="#906010" stroke-width="1.1"/>
<path d="M47 10.3 L54 15.5 L60.5 9" fill="none" stroke="#f8f0c0" stroke-width="0.6"/>
<path d="M75.5 0.5 H83.5 L85.8 2.8 V11 H75.5 Z" fill="url(#blu)" stroke="#1a70c0" stroke-width="0.8"/>
<path d="M77 3.5 H84 M79.5 6 H84 M79.5 8.3 H84" stroke="#e8f4ff" stroke-width="0.9"/>
<path d="M74.5 15.6 Q72.2 15 73.2 12.6 Q74.2 10.8 76.4 11.4 Q77.6 8.2 81 8.4 Q84 8.8 84.6 11 Q87.4 10.4 88.6 12.6 Q89.6 15.2 87.2 15.6 Z" fill="url(#cloud)" stroke="#5a88c0" stroke-width="0.9"/>
<path d="M108.9 7.9 L108.9 15.6 A7.7 7.7 0 0 0 116.6 7.9 Z" fill="#d8ecd0" opacity="0.8"/>
<path d="M108.9 0.7000000000000002 A7.2 7.2 0 0 0 108.9 15.100000000000001" fill="none" stroke="#3a68c8" stroke-width="1.2" opacity="0.7"/>
<path d="M108.9 0.7000000000000002 A7.2 7.2 0 0 1 108.9 15.100000000000001" fill="none" stroke="#4a9a80" stroke-width="1.2" opacity="0.7"/>
<path d="M108.9 3.3000000000000007 A4.6 4.6 0 0 0 108.9 12.5" fill="none" stroke="#3a68c8" stroke-width="1.2" opacity="0.8"/>
<path d="M108.9 3.3000000000000007 A4.6 4.6 0 0 1 108.9 12.5" fill="none" stroke="#4a9a80" stroke-width="1.2" opacity="0.8"/>
<circle cx="108.9" cy="7.9" r="1.9" fill="#2858c8"/>
<path d="M109.3 8 V15.6" stroke="#20a020" stroke-width="1.4"/>
<path d="M128.5 7.5 L143.5 6.5 L137 15.5 Z" fill="#f4e060" stroke="#d0a020" stroke-width="0.8"/>
<ellipse cx="136" cy="5" rx="7.8" ry="2.4" fill="#68b8e8" stroke="#3088b8" stroke-width="0.8"/>
<path d="M133 5 Q133.5 0 136 0 Q138.5 0 139 5 Z" fill="#80c8f0" stroke="#3088b8" stroke-width="0.6"/>
<circle cx="140.5" cy="11.8" r="4" fill="#e02810" stroke="#b01808" stroke-width="0.6"/>
<rect x="139" y="10.2" width="2.9" height="2.8" fill="#fff"/>
</g>
<rect x="204" y="0" width="1" height="19" fill="#a0a0a0"/>
<rect x="208" y="1" width="3" height="1" fill="#b8b8b8"/>
<rect x="208" y="3" width="3" height="1" fill="#b8b8b8"/>
<rect x="208" y="5" width="3" height="1" fill="#b8b8b8"/>
<rect x="208" y="7" width="3" height="1" fill="#b8b8b8"/>
<rect x="208" y="9" width="3" height="1" fill="#b8b8b8"/>
<rect x="208" y="11" width="3" height="1" fill="#b8b8b8"/>
<rect x="208" y="13" width="3" height="1" fill="#b8b8b8"/>
<rect x="208" y="15" width="3" height="1" fill="#b8b8b8"/>
<rect x="208" y="17" width="3" height="1" fill="#b8b8b8"/>
<rect x="242" y="0" width="1" height="19" fill="#a0a0a0"/>
<rect x="243" y="0" width="24" height="19" fill="#f5f5f5"/>
<rect x="394" y="0" width="26" height="19" fill="#f5f5f5"/>
<rect x="423" y="0" width="24" height="19" fill="#f5f5f5"/>
<rect x="583" y="0" width="25" height="19" fill="#f5f5f5"/>
<rect x="1029" y="0" width="25" height="19" fill="#f5f5f5"/>
<rect x="299" y="0" width="1" height="19" fill="#a0a0a0"/>
<rect x="389" y="0" width="1" height="19" fill="#a0a0a0"/>
<rect x="394" y="0" width="1" height="19" fill="#b0b0b0"/>
<rect x="422" y="0" width="1" height="19" fill="#b0b0b0"/>
<rect x="451" y="0" width="1" height="19" fill="#a0a0a0"/>
<rect x="572" y="0" width="1" height="19" fill="#a0a0a0"/>
<rect x="576" y="1" width="3" height="1" fill="#b8b8b8"/>
<rect x="576" y="3" width="3" height="1" fill="#b8b8b8"/>
<rect x="576" y="5" width="3" height="1" fill="#b8b8b8"/>
<rect x="576" y="7" width="3" height="1" fill="#b8b8b8"/>
<rect x="576" y="9" width="3" height="1" fill="#b8b8b8"/>
<rect x="576" y="11" width="3" height="1" fill="#b8b8b8"/>
<rect x="576" y="13" width="3" height="1" fill="#b8b8b8"/>
<rect x="576" y="15" width="3" height="1" fill="#b8b8b8"/>
<rect x="576" y="17" width="3" height="1" fill="#b8b8b8"/>
<rect x="583" y="0" width="1" height="19" fill="#b0b0b0"/>
<rect x="639" y="0" width="1" height="19" fill="#a0a0a0"/>
<rect x="878" y="0" width="1" height="19" fill="#a0a0a0"/>
<rect x="882" y="1" width="3" height="1" fill="#b8b8b8"/>
<rect x="882" y="3" width="3" height="1" fill="#b8b8b8"/>
<rect x="882" y="5" width="3" height="1" fill="#b8b8b8"/>
<rect x="882" y="7" width="3" height="1" fill="#b8b8b8"/>
<rect x="882" y="9" width="3" height="1" fill="#b8b8b8"/>
<rect x="882" y="11" width="3" height="1" fill="#b8b8b8"/>
<rect x="882" y="13" width="3" height="1" fill="#b8b8b8"/>
<rect x="882" y="15" width="3" height="1" fill="#b8b8b8"/>
<rect x="882" y="17" width="3" height="1" fill="#b8b8b8"/>
<rect x="1028" y="0" width="1" height="19" fill="#b0b0b0"/>
<rect x="1139" y="0" width="1" height="19" fill="#a0a0a0"/>
<g shape-rendering="auto">
<path d="M221.5 3 V15 M220 13.5 H233.5" stroke="#505050" stroke-width="1" fill="none"/>
<path d="M220 4.5 L221.5 2.5 L223 4.5 M232 12 L234 13.5 L232 15" stroke="#505050" stroke-width="1" fill="none"/>
<path d="M228.5 4 H231 M228.5 4 V10.5 H226.5" stroke="#20a020" stroke-width="1.2" fill="none"/>
<path d="M249.5 3 V15 M248 13.5 H261.5" stroke="#505050" stroke-width="1" fill="none"/>
<path d="M248 4.5 L249.5 2.5 L251 4.5 M260 12 L262 13.5 L260 15" stroke="#505050" stroke-width="1" fill="none"/>
<rect x="254.5" y="2.5" width="4" height="7.5" fill="#40e040" stroke="#109010" stroke-width="0.8"/>
<path d="M256.5 0.5 V2.5 M256.5 10 V12" stroke="#109010" stroke-width="1"/>
<path d="M277.5 3 V15 M276 13.5 H289.5" stroke="#505050" stroke-width="1" fill="none"/>
<path d="M276 4.5 L277.5 2.5 L279 4.5 M288 12 L290 13.5 L288 15" stroke="#505050" stroke-width="1" fill="none"/>
<path d="M277 10.5 Q283 2 289 9" stroke="#20a020" stroke-width="1.2" fill="none"/>
<path d="M401.5 3 V15 M400 13.5 H413.5" stroke="#505050" stroke-width="1" fill="none"/>
<path d="M400 4.5 L401.5 2.5 L403 4.5 M412 12 L414 13.5 L412 15" stroke="#505050" stroke-width="1" fill="none"/>
<path d="M407.2 4.5 L410.6 7.6 L407.2 10.7 Z" fill="#a0e8a0" stroke="#20a020" stroke-width="1"/>
<path d="M429.5 3 V15 M428 13.5 H441.5" stroke="#505050" stroke-width="1" fill="none"/>
<path d="M428 4.5 L429.5 2.5 L431 4.5 M440 12 L442 13.5 L440 15" stroke="#505050" stroke-width="1" fill="none"/>
<path d="M436.5 2 V11.5" stroke="#2070c0" stroke-width="1.2"/>
<path d="M442 7.5 H438 M440 5.5 L437.8 7.5 L440 9.5" stroke="#e04010" stroke-width="1.2" fill="none"/>
<path d="M317.5 10.5 L322.5 15" stroke="#c89010" stroke-width="2.4"/>
<circle cx="313.8" cy="6.4" r="5.2" fill="#d8ecff" stroke="#2878c8" stroke-width="1.2"/>
<path d="M311.3 6.4 H316.3" stroke="#2060b0" stroke-width="1.5"/>
<path d="M313.8 3.9 V316.9" stroke="none"/>
<path d="M313.8 3.9 V8.9" stroke="#2060b0" stroke-width="1.5"/>
<path d="M345.5 10.5 L350.5 15" stroke="#c89010" stroke-width="2.4"/>
<circle cx="341.8" cy="6.4" r="5.2" fill="#d8ecff" stroke="#2878c8" stroke-width="1.2"/>
<path d="M339.3 6.4 H344.3" stroke="#2060b0" stroke-width="1.5"/>
</g>
<rect x="364" y="0" width="7.5" height="7.5" fill="#30a030"/>
<rect x="365.5" y="3" width="4.5" height="2.5" fill="#f0f0f0" opacity="0.9"/>
<rect x="372.5" y="0" width="7.5" height="7.5" fill="#2050c0"/>
<rect x="374.0" y="3" width="4.5" height="2.5" fill="#f0f0f0" opacity="0.9"/>
<rect x="364" y="8" width="7.5" height="7.5" fill="#2050c0"/>
<rect x="365.5" y="11" width="4.5" height="2.5" fill="#f0f0f0" opacity="0.9"/>
<rect x="372.5" y="8" width="7.5" height="7.5" fill="#30a030"/>
<rect x="374.0" y="11" width="4.5" height="2.5" fill="#f0f0f0" opacity="0.9"/>
<g shape-rendering="auto">
<path d="M461 1.5 H467.5 L470 4 V12.5 H461 Z" fill="#fafafa" stroke="#707070" stroke-width="0.8"/><path d="M462.5 4 H466 M462.5 4 V11" stroke="#606060" stroke-width="0.8"/>
<path d="M466 11 H477.5 M471.7 5.3 V16.8" stroke="#18b018" stroke-width="3.2"/>
<circle cx="506.8" cy="8" r="7.2" fill="url(#clock)"/>
<circle cx="506.8" cy="8" r="5" fill="#f8f8f8" stroke="#0850a8" stroke-width="0.6"/>
<path d="M506.8 5 V8.3 H509" stroke="#303030" stroke-width="1" fill="none"/>
<rect x="538.5" y="1.5" width="16" height="14" fill="#fafafa" stroke="#3070c0" stroke-width="1"/>
<rect x="538.5" y="1.5" width="16" height="2.5" fill="#3070c0"/>
<path d="M540 8 L543 6.5 L546 7.5 L549 6 L553 6.8" stroke="#c03010" stroke-width="0.9" fill="none"/>
<path d="M538.5 9.5 H554.5" stroke="#3070c0" stroke-width="0.8"/>
<path d="M540 13 L543 11.5 L546 12.5 L549 11 L553 12" stroke="#20a020" stroke-width="0.9" fill="none"/>
</g>
<path d="M483 7 H488.5 L485.75 10 Z" fill="#000" shape-rendering="auto"/>
<path d="M521.6 7 H527.1 L524.35 10 Z" fill="#000" shape-rendering="auto"/>
<path d="M560.8 7 H566.3 L563.55 10 Z" fill="#000" shape-rendering="auto"/>
<path d="M866.7 7 H872.2 L869.45 10 Z" fill="#000" shape-rendering="auto"/>
<path d="M589.5 1.5 L598 9.5 L594.5 9.8 L596.5 14.5 L594.8 15.2 L592.8 10.5 L589.5 13 Z" fill="#404040" shape-rendering="auto"/>
<path d="M615 8.5 H630 M622.5 1 V16" stroke="#404040" stroke-width="1"/>
<rect x="621" y="7" width="3" height="3" fill="#f0f0f0"/>
<rect x="656" y="2" width="1" height="13" fill="#404040"/>
<rect x="679" y="8" width="12" height="1" fill="#404040"/>
<g shape-rendering="auto">
<path d="M707 15 L719 2.5" stroke="#404040" stroke-width="1"/>
<path d="M733 10.5 L744 1 M736.5 14 L747.5 4.5 M735.5 9 L737 12 M738.5 6.5 L740 9.5 M741.5 4 L743 7" stroke="#404040" stroke-width="0.9" fill="none"/>
<text x="744" y="16.5" font-size="6.5" font-weight="bold" fill="#404040" font-family="Liberation Sans">E</text>
</g>
<path d="M762 1.5 H774" stroke="#505050" stroke-width="1" stroke-dasharray="1,1"/>
<path d="M762 4.5 H774" stroke="#505050" stroke-width="1" stroke-dasharray="1,1"/>
<path d="M762 8.5 H774" stroke="#505050" stroke-width="1" stroke-dasharray="1,1"/>
<path d="M762 12.5 H774" stroke="#505050" stroke-width="1" stroke-dasharray="1,1"/>
<text x="771" y="16.5" font-size="6.5" font-weight="bold" fill="#404040" font-family="Liberation Sans">F</text>
<text x="792.5" y="12.6" font-size="11" font-weight="bold" fill="#505050" font-family="Liberation Sans">A</text>
<rect x="818.5" y="2.5" width="12" height="12.5" fill="none" stroke="#606060" stroke-width="1" stroke-dasharray="1,1"/>
<text x="820.6" y="13" font-size="11" font-weight="bold" fill="#505050" font-family="Liberation Sans">T</text>
<g shape-rendering="auto"><path d="M846.5 5 L850 2 L853 5 L850 8 Z M853 11 L856.5 8 L860 11 L856.5 14.5 Z" fill="#404040"/><path d="M849 9 L851 11 L855 6" stroke="#404040" stroke-width="1" fill="none"/></g>
<text x="892.6999999999999" y="12" font-size="9" fill="#404040" font-family="Liberation Sans">M1</text>
<text x="921.1" y="12" font-size="9" fill="#404040" font-family="Liberation Sans">M5</text>
<text x="947.0" y="12" font-size="9" fill="#404040" font-family="Liberation Sans">M15</text>
<text x="975.1" y="12" font-size="9" fill="#404040" font-family="Liberation Sans">M30</text>
<text x="1005.9" y="12" font-size="9" fill="#404040" font-family="Liberation Sans">H1</text>
<text x="1033.1000000000001" y="12" font-size="9" fill="#404040" font-family="Liberation Sans">H4</text>
<text x="1062.1000000000001" y="12" font-size="9" fill="#404040" font-family="Liberation Sans">D1</text>
<text x="1089.4" y="12" font-size="9" fill="#404040" font-family="Liberation Sans">W1</text>
<text x="1115.9" y="12" font-size="9" fill="#404040" font-family="Liberation Sans">MN</text>
<g shape-rendering="auto">
<circle cx="1609.5" cy="5.4" r="3.8" fill="#f4f4ff" stroke="#2060d0" stroke-width="1.3"/>
<path d="M1606.5 8.4 L1602.5 12.5" stroke="#2060d0" stroke-width="2"/>
<ellipse cx="1631" cy="10.5" rx="5.8" ry="4.5" fill="#e8e8f0" stroke="#a0a0a0" stroke-width="0.9"/>
<path d="M1629 14.5 L1629.5 16.5 L1632 14.5" fill="#d0d0d8" stroke="#909090" stroke-width="0.7"/>
<circle cx="1640.3" cy="5.9" r="7.6" fill="url(#badge)"/>
<text x="1637.6" y="10" font-size="10" font-weight="bold" fill="#fff" font-family="Liberation Sans">1</text>
</g>
</svg>
</body></html>
